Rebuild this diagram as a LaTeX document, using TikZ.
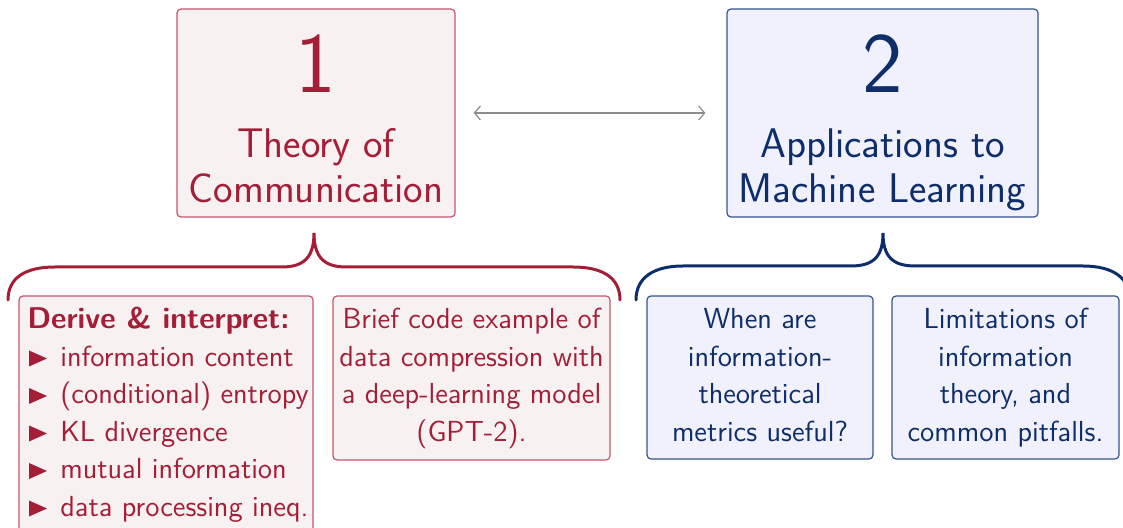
\documentclass[tikz,border=0pt]{standalone}
\usepackage{fontspec}
\usetikzlibrary{arrows.meta,calc}
\definecolor{tred}{HTML}{A51E37}
\definecolor{tredfill}{HTML}{F8F1F2}
\definecolor{tredline}{HTML}{C4566B}
\definecolor{tblue}{HTML}{0E2D6B}
\definecolor{tbluefill}{HTML}{F0F1FC}
\definecolor{tblueline}{HTML}{34548F}
\definecolor{tgray}{HTML}{8C8C8C}
\tikzset{
  redbox/.style={draw=tredline, fill=tredfill, rounded corners=2pt, line width=0.6pt, inner sep=0pt},
  bluebox/.style={draw=tblueline, fill=tbluefill, rounded corners=2pt, line width=0.6pt, inner sep=0pt},
  bignum/.style={inner sep=0pt, anchor=base, font=\sffamily\fontsize{43}{50}\selectfont},
  titleline/.style={inner sep=0pt, anchor=base, font=\sffamily\fontsize{20.7}{24}\selectfont},
  bodyline/.style={inner sep=0pt, anchor=base, font=\sffamily\fontsize{14.5}{18}\selectfont},
  itemline/.style={inner sep=0pt, anchor=base west, font=\sffamily\fontsize{14.5}{18}\selectfont},
  bracestyle/.style={line width=1.5pt, line cap=round},
  linkarrow/.style={draw=tgray, line width=0.6pt, {Straight Barb[length=3pt,width=7pt]}-{Straight Barb[length=3pt,width=7pt]}}
}
\begin{document}
\begin{tikzpicture}[x=0.5pt,y=-0.5pt]
\useasboundingbox (0,0) rectangle (1123,528);

% top boxes
\node[redbox, minimum width=139pt, minimum height=104pt] (b1) at (316,113) {};
\node[bignum, text=tred] (n1) at (316,93) {1};
\node[titleline, text=tred] (t1a) at (316,158) {Theory of};
\node[titleline, text=tred] (t1b) at (316,203) {Communication};

\node[bluebox, minimum width=155.5pt, minimum height=104pt] (b2) at (882.5,113) {};
\node[bignum, text=tblue] (n2) at (882.5,93) {2};
\node[titleline, text=tblue] (t2a) at (882.5,158) {Applications to};
\node[titleline, text=tblue] (t2b) at (882.5,203) {Machine Learning};

\draw[linkarrow, shorten <=9pt, shorten >=10.5pt] (b1.east) -- (b2.west);

% braces
\draw[bracestyle, tred] (8,300) .. controls (8,278) and (25,267) .. (55,267) -- (282,267)
  .. controls (305,267) and (314,256) .. (314,233)
  .. controls (314,256) and (323,267) .. (346,267) -- (573,267)
  .. controls (603,267) and (620,278) .. (620,300);
\draw[bracestyle, tblue] (636,300) .. controls (636,278) and (653,266) .. (683,266) -- (851,266)
  .. controls (874,266) and (883,256) .. (883,233)
  .. controls (883,256) and (892,266) .. (915,266) -- (1083,266)
  .. controls (1113,266) and (1130,278) .. (1130,300);

% bottom red boxes
\node[redbox, minimum width=147pt, minimum height=125pt] (list) at (166,421) {};
\node[itemline, text=tred, font=\sffamily\bfseries\fontsize{15}{18}\selectfont] (lh) at (27,329) {Derive \& interpret:};
\node[itemline, text=tred] (i1) at (60,366.5) {information content};
\node[itemline, text=tred] (i2) at (60,404) {(conditional) entropy};
\node[itemline, text=tred] (i3) at (60,441.5) {KL divergence};
\node[itemline, text=tred] (i4) at (60,479) {mutual information};
\node[itemline, text=tred] (i5) at (60,516.5) {data processing ineq.};
\foreach \i in {i1,i2,i3,i4,i5}{
  \fill[tred] ($(\i.base west)+(-31,0)$) -- ++(0,-16) -- ++(18,8) -- cycle;
}

\node[redbox, minimum width=138.5pt, minimum height=82pt] (brief) at (471.5,378) {};
\node[bodyline, text=tred] (r1) at (471.5,329) {Brief code example of};
\node[bodyline, text=tred] (r2) at (471.5,366.5) {data compression with};
\node[bodyline, text=tred] (r3) at (471.5,404) {a deep-learning model};
\node[bodyline, text=tred] (r4) at (471.5,441.5) {(GPT-2).};

% bottom blue boxes
\node[bluebox, minimum width=113pt, minimum height=81.5pt] (ba) at (760,377.5) {};
\node[bodyline, text=tblue] (a1) at (760,329) {When are};
\node[bodyline, text=tblue] (a2) at (760,366.5) {information-};
\node[bodyline, text=tblue] (a3) at (760,404) {theoretical};
\node[bodyline, text=tblue] (a4) at (760,441.5) {metrics useful?};

\node[bluebox, minimum width=113.5pt, minimum height=81.5pt] (bb) at (1005.5,377.5) {};
\node[bodyline, text=tblue] (c1) at (1005.5,329) {Limitations of};
\node[bodyline, text=tblue] (c2) at (1005.5,366.5) {information};
\node[bodyline, text=tblue] (c3) at (1005.5,404) {theory, and};
\node[bodyline, text=tblue] (c4) at (1005.5,441.5) {common pitfalls.};
\end{tikzpicture}
\end{document}
